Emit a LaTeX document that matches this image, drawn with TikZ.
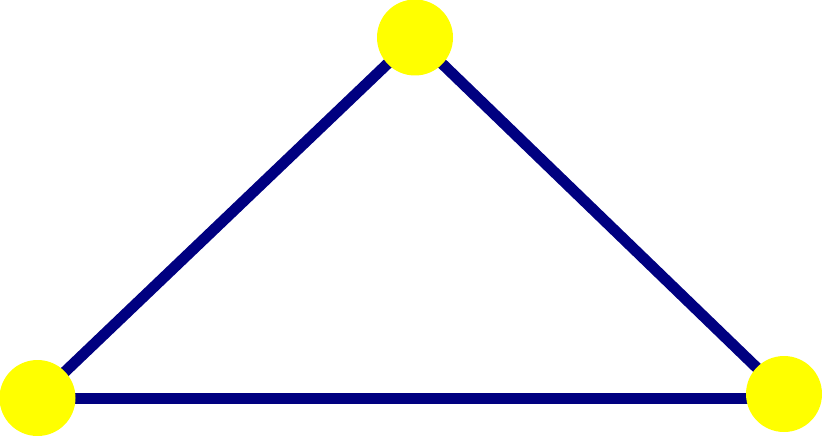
\documentclass[tikz,border=0pt]{standalone}
\usetikzlibrary{backgrounds}
\definecolor{navyline}{RGB}{0,0,128}
\definecolor{dotyellow}{RGB}{255,255,0}
\begin{document}
\begin{tikzpicture}[x=1pt,y=-1pt,
  dot/.style={circle,fill=dotyellow,draw=none,minimum size=76pt,inner sep=0pt},
  edge/.style={draw=navyline,line width=11pt}]
\useasboundingbox (0,0) rectangle (822,436);
\node[dot] (a) at (415,37.5) {};
\node[dot] (b) at (37.5,398) {};
\node[dot] (c) at (784,394) {};
\coordinate (m) at (415,398);
\begin{scope}[on background layer]
\draw[edge] (b.center) -- (a.center);
\draw[edge] (a.center) -- (c.center);
\draw[edge] (b.center) -- (m);
\draw[edge] (m) -- (c.center |- m);
\end{scope}
\end{tikzpicture}
\end{document}
